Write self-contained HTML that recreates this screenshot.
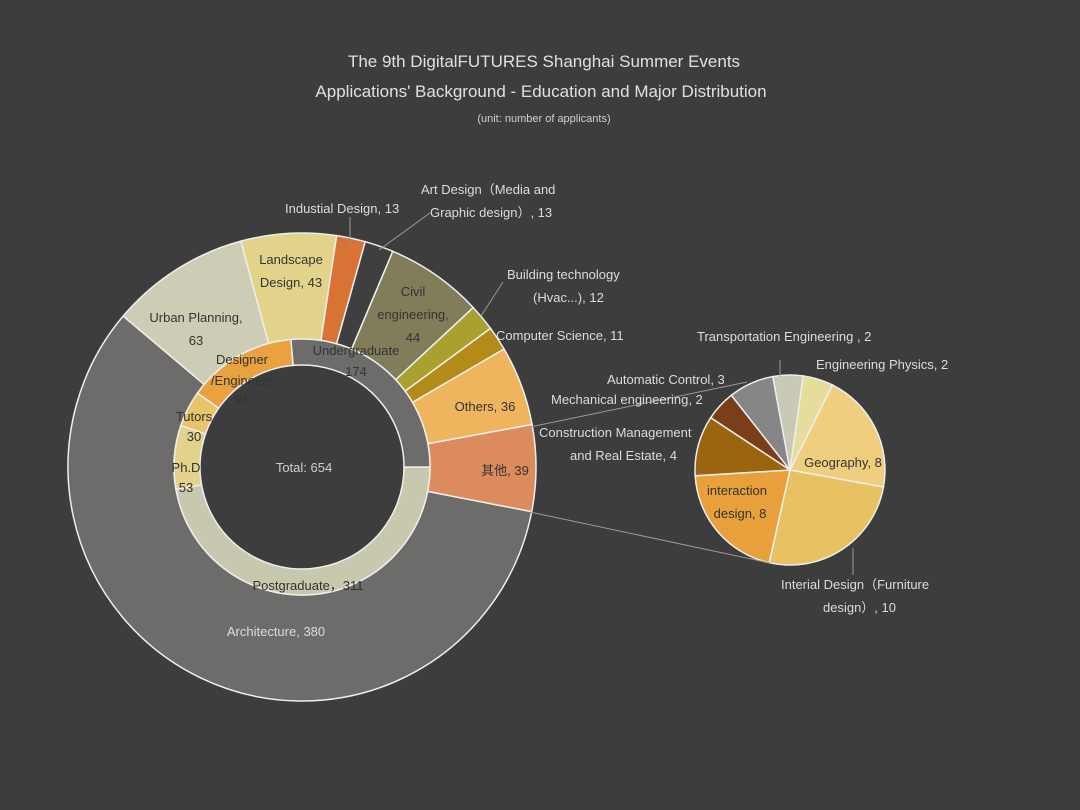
<!DOCTYPE html>
<html><head><meta charset="utf-8"><style>
html,body{margin:0;padding:0;background:#3d3d3d;}
svg{display:block;font-family:"Liberation Sans","Noto Sans CJK SC",sans-serif;}
.o{fill:#dcdcdc;font-size:13px;}
.i{fill:#333;font-size:13px;}
</style></head><body>
<svg id="c" width="1080" height="810" viewBox="0 0 1080 810">
<rect width="1080" height="810" fill="#3d3d3d"/>
<text x="544" y="67" text-anchor="middle" fill="#e0e0e0" font-size="17">The 9th DigitalFUTURES Shanghai Summer Events</text>
<text x="541" y="97" text-anchor="middle" fill="#e0e0e0" font-size="17">Applications' Background - Education and Major Distribution</text>
<text x="544" y="122" text-anchor="middle" fill="#d0d0d0" font-size="11">(unit: number of applicants)</text>
<g id="marks"></g>
<g id="labels">
<g stroke="#999" fill="none" stroke-width="1">
<path d="M530,512 L770,563"/>
<path d="M530,427 L747,382"/>
<path d="M350,244 L350,217"/>
<path d="M379,250 L430,213"/>
<path d="M481,316 L503,282"/>
<path d="M780,377 L780,360"/>
<path d="M853,548 L853,575"/>
</g>
<text class="o" x="285" y="213">Industial Design, 13</text>
<text class="o" x="421" y="194">Art Design（Media and</text>
<text class="o" x="430" y="217">Graphic design）, 13</text>
<text class="o" x="507" y="279">Building technology</text>
<text class="o" x="533" y="302">(Hvac...), 12</text>
<text class="o" x="496" y="340">Computer Science, 11</text>
<text class="o" x="697" y="341">Transportation Engineering , 2</text>
<text class="o" x="816" y="369">Engineering Physics, 2</text>
<text class="o" x="607" y="384">Automatic Control, 3</text>
<text class="o" x="551" y="404">Mechanical engineering, 2</text>
<text class="o" x="539" y="437">Construction Management</text>
<text class="o" x="570" y="460">and Real Estate, 4</text>
<text class="o" x="781" y="589">Interial Design（Furniture</text>
<text class="o" x="823" y="612">design）, 10</text>
<text class="i" x="291" y="264" text-anchor="middle">Landscape</text>
<text class="i" x="291" y="287" text-anchor="middle">Design, 43</text>
<text class="i" x="196" y="322" text-anchor="middle">Urban Planning,</text>
<text class="i" x="196" y="345" text-anchor="middle">63</text>
<text class="i" x="413" y="296" text-anchor="middle">Civil</text>
<text class="i" x="413" y="319" text-anchor="middle">engineering,</text>
<text class="i" x="413" y="342" text-anchor="middle">44</text>
<text class="i" x="485" y="411" text-anchor="middle">Others, 36</text>
<text class="i" x="505" y="475" text-anchor="middle">其他, 39</text>
<text class="o" x="276" y="636" text-anchor="middle">Architecture, 380</text>
<text class="i" x="356" y="355" text-anchor="middle">Undergraduate</text>
<text class="i" x="356" y="376" text-anchor="middle">174</text>
<text class="i" x="242" y="364" text-anchor="middle">Designer</text>
<text class="i" x="242" y="385" text-anchor="middle">/Engineers</text>
<text class="i" x="242" y="404" text-anchor="middle">91</text>
<text class="i" x="194" y="421" text-anchor="middle">Tutors</text>
<text class="i" x="194" y="441" text-anchor="middle">30</text>
<text class="i" x="186" y="472" text-anchor="middle">Ph.D</text>
<text class="i" x="186" y="492" text-anchor="middle">53</text>
<text class="i" x="308" y="590" text-anchor="middle">Postgraduate，311</text>
<text x="304" y="472" text-anchor="middle" fill="#cfcfcf" font-size="13">Total: 654</text>
<text class="i" x="737" y="495" text-anchor="middle">interaction</text>
<text class="i" x="740" y="518" text-anchor="middle">design, 8</text>
<text class="i" x="843" y="467" text-anchor="middle">Geography, 8</text>
</g>
</svg>
<script>
const outerCats=["Architecture","Urban Planning","Landscape Design","Industrial Design","Art Design","Civil engineering","Building technology","Computer Science","Others","其他"];
const outerVals=[380,63,43,13,13,44,12,11,36,39];
const outerColors=["#6e6c6b","#cfccb6","#e3d38a","#d87335","#3f3f3f","#817d5a","#aaa030","#b48a18","#efb45e","#dc8b5c"];
const innerCats=["Undergraduate","Postgraduate","Ph.D","Tutors","Designer/Engineers"];
const innerVals=[174,311,53,30,91];
const innerColors=["#6e6c6b","#c8c8ae","#e2d28c","#e8c46a","#e9a23e"];
const pieCats=["Geography","Interial Design","interaction design","Construction Management","Mechanical engineering","Automatic Control","Transportation Engineering","Engineering Physics"];
const pieVals=[8,10,8,4,2,3,2,2];
const pieColors=["#efce80","#e8c262","#e8a13a","#9b640f","#7a3e1a","#868686","#c9c9b6","#e6dc9c"];
const NS="http://www.w3.org/2000/svg";
const g=document.getElementById('marks');
function arc(cx,cy,r0,r1,a0,a1){
  const p=(r,a)=>[cx+r*Math.cos(a),cy+r*Math.sin(a)];
  const lg=(a1-a0)>Math.PI?1:0;
  const [x0,y0]=p(r1,a0),[x1,y1]=p(r1,a1);
  if(r0<=0) return `M${cx},${cy}L${x0},${y0}A${r1},${r1} 0 ${lg} 1 ${x1},${y1}Z`;
  const [x2,y2]=p(r0,a1),[x3,y3]=p(r0,a0);
  return `M${x0},${y0}A${r1},${r1} 0 ${lg} 1 ${x1},${y1}L${x2},${y2}A${r0},${r0} 0 ${lg} 0 ${x3},${y3}Z`;
}
function ring(vals,cols,cats,cx,cy,r0,r1,startDeg,prefix){
  const tot=vals.reduce((a,b)=>a+b,0);
  let a=startDeg*Math.PI/180;
  vals.forEach((v,i)=>{
    const da=v/tot*2*Math.PI;
    const el=document.createElementNS(NS,'path');
    el.setAttribute('d',arc(cx,cy,r0,r1,a,a+da));
    el.setAttribute('fill',cols[i]);
    el.setAttribute('stroke','#eeeeee');
    el.setAttribute('stroke-width','1.5');
    
    
    g.appendChild(el);
    a+=da;
  });
}
ring(outerVals,outerColors,outerCats,302,467,128,234,11,'outer-slice');
ring(innerVals,innerColors,innerCats,302,467,102,128,-95,'inner-slice');
ring(pieVals,pieColors,pieCats,790,470,0,95,-63.5,'pie-slice');
</script>
</body></html>
